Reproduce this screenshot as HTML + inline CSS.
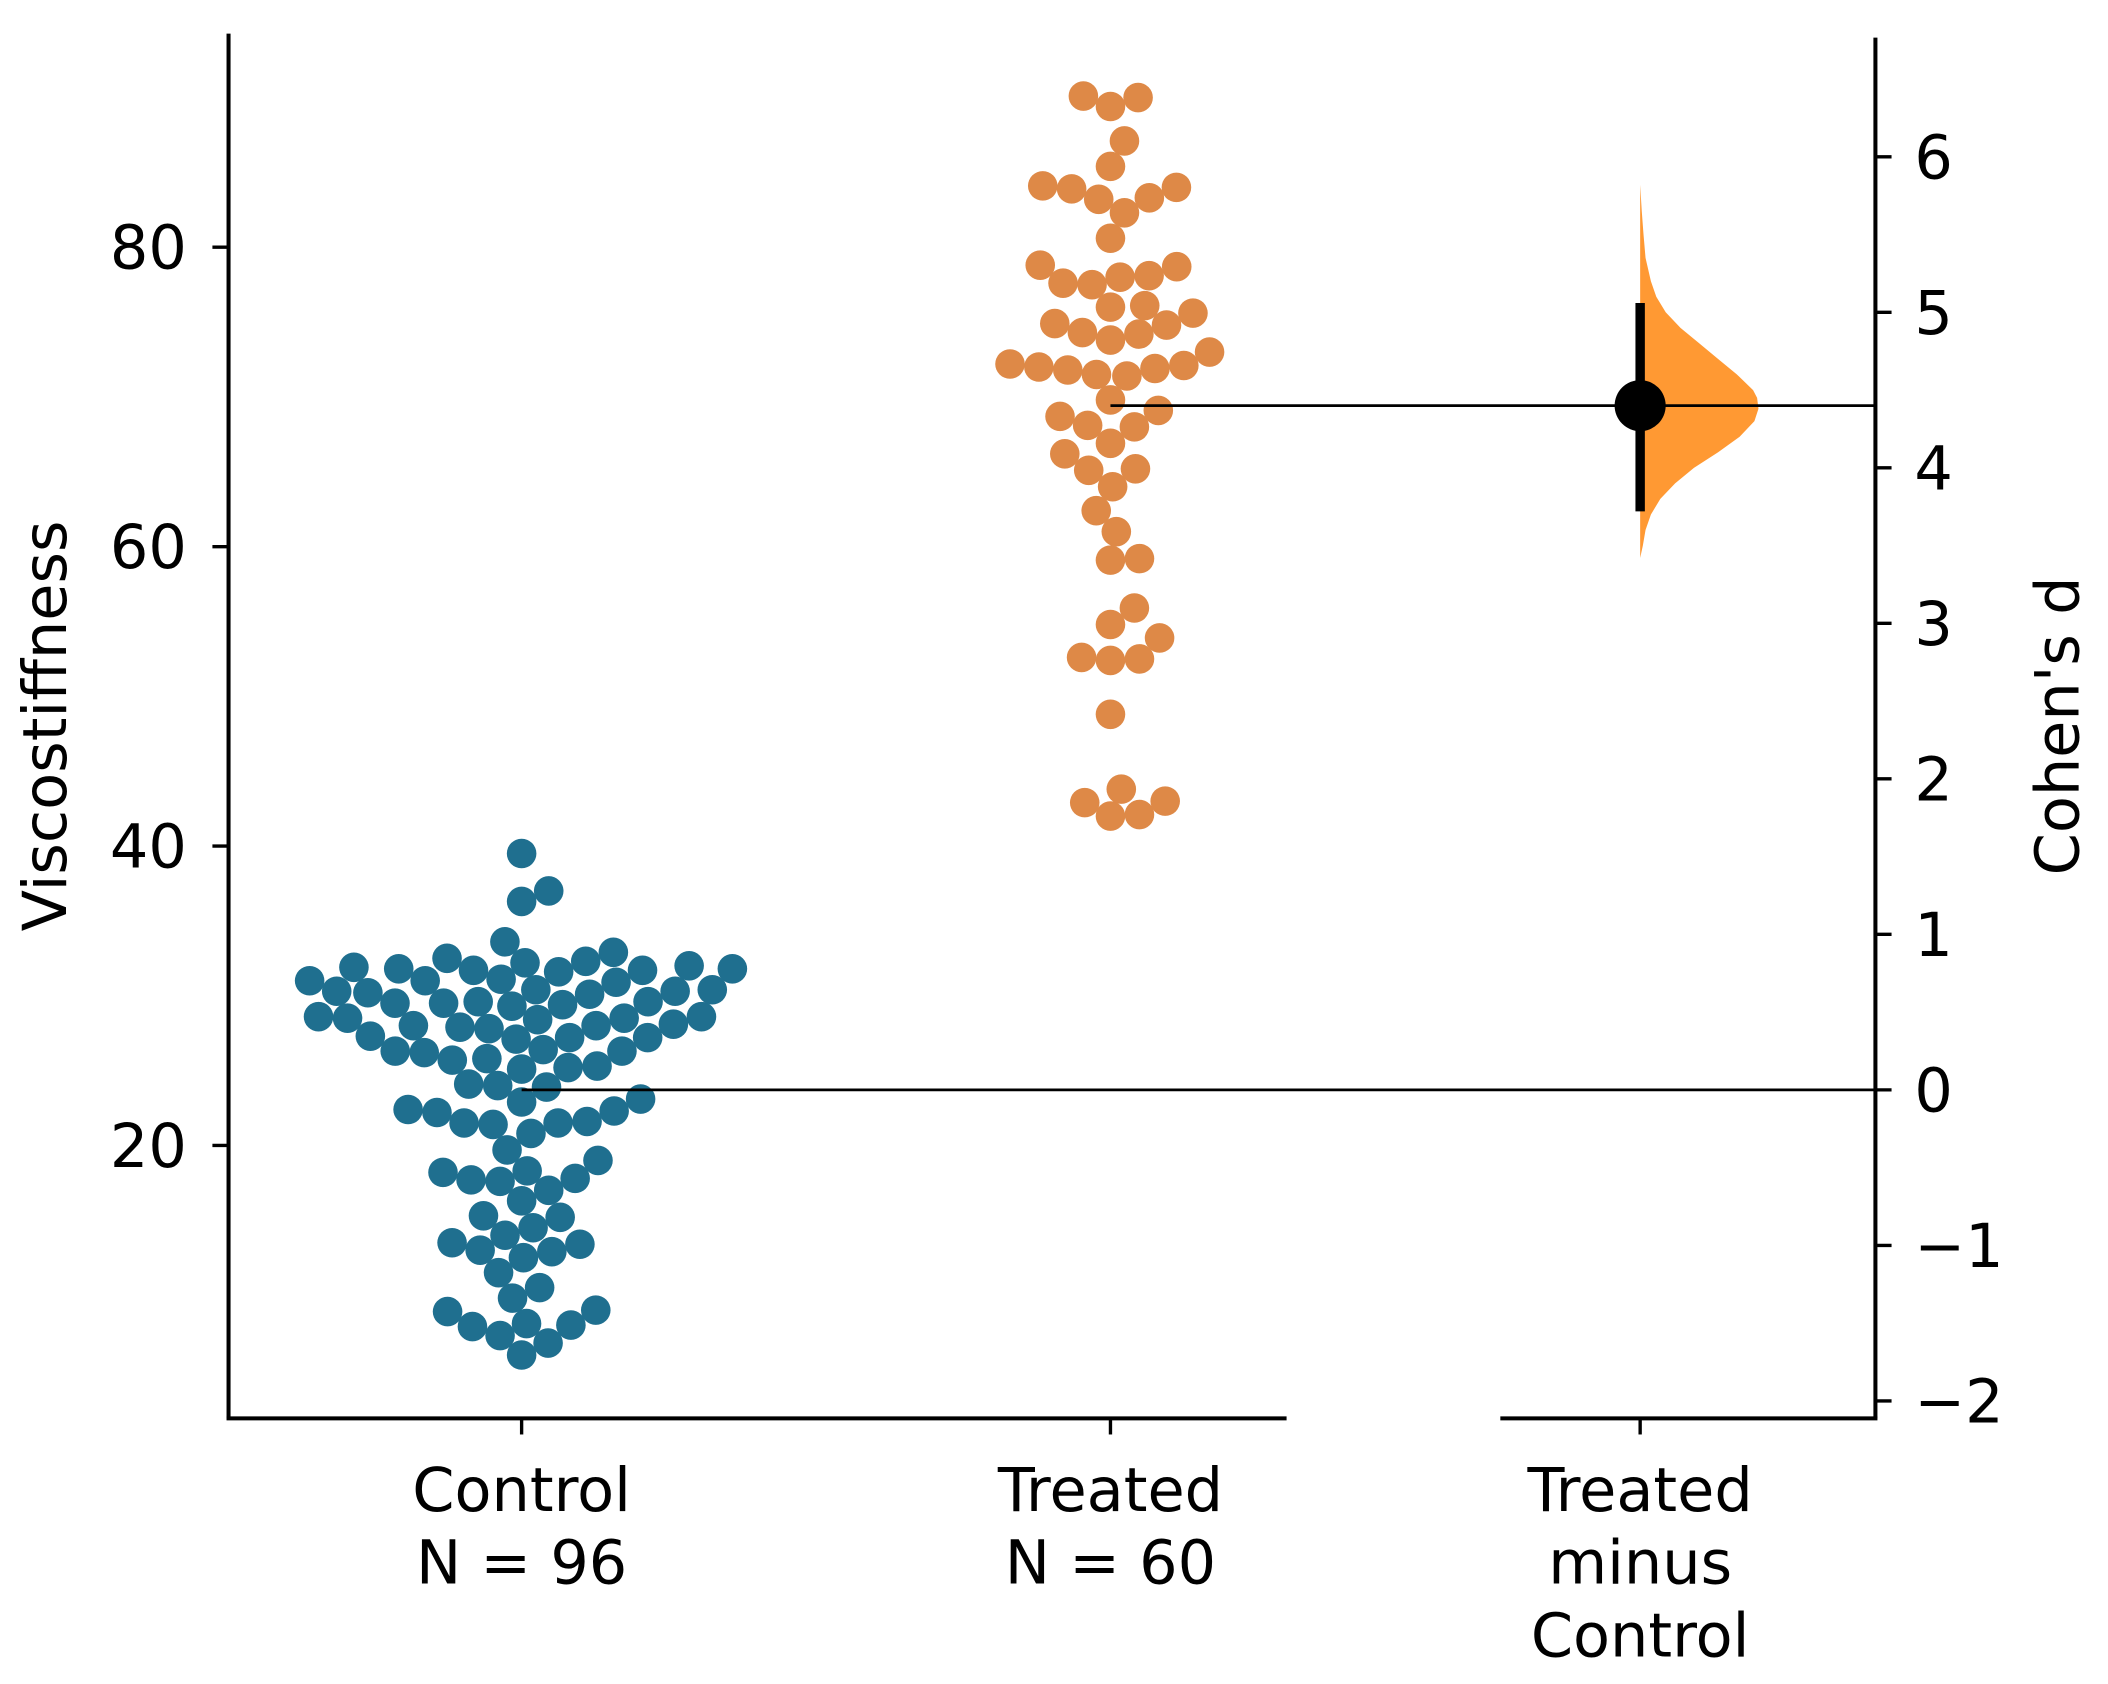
<!DOCTYPE html>
<html><head><meta charset="utf-8"><style>
html,body{margin:0;padding:0;background:#fff;}
svg{display:block;}
text{font-family:"DejaVu Sans","Liberation Sans",sans-serif;fill:#000;}
</style></head><body>
<svg id="chart" width="2108" height="1684" viewBox="0 0 1568 1252.6" preserveAspectRatio="none" xmlns="http://www.w3.org/2000/svg">
<g id="axes"></g>
<g id="marks"></g>
</svg>
<script>
const groups = ["Control", "Treated"];
const groupN = ["N = 96", "N = 60"];
const controlValues = [39.5,37.0,36.3,33.6,32.9,
32.5,32.3,32.2,32.0, 31.9,31.8,31.7,31.6,31.8,31.7,
31.1,31.0,30.9,31.0, 30.4,30.3,30.2,30.3,30.1,30.4,
29.6,29.5,29.4,29.6,29.5,29.3, 28.6,28.5,28.4,28.6,28.5,
28.0,28.1,27.9,28.0,27.8, 27.3,27.2,27.1,27.2, 26.4,26.3,26.2,26.3,
25.8,25.7, 25.2,25.1,25.3, 24.1,24.0,23.9, 23.1,22.9,
22.4,22.3,22.2, 21.6,21.5,21.4,21.5, 20.8,19.7,19.0,
18.3,18.2, 17.7,17.6,17.8, 17.0,16.3, 15.3,15.2, 14.5,14.0,
13.5,13.4, 13.0,12.9, 12.5,11.5,10.5,9.8, 9.0,8.9, 8.0,8.1,7.9, 7.3,6.8,6.0];
const treatedValues = [90.0,90.1,89.4,87.1,85.4,84.0,84.1,83.9,83.3,83.2,82.3,80.6,
78.7,78.8,78.1,78.0,77.6,77.5,76.0,76.1,75.6,74.8,74.9,74.2,74.3,73.8,73.0,
72.0,72.1,71.9,72.2,71.8,71.4,71.5,69.8,69.1,68.7,68.0,68.1,66.9,66.2,65.1,65.2,64.0,
62.4,61.0,59.1,59.2,55.9,54.8,53.9,52.5,52.4,52.6,48.8,43.8,42.9,43.0,42.0,42.1];
const effectSize = 4.40;
const ciLow = 3.72;
const ciHigh = 5.06;
const kdeD = [3.42,3.5,3.6,3.7,3.8,3.9,4.0,4.1,4.2,4.3,4.38,4.45,4.5,4.6,4.7,4.8,4.9,5.0,5.1,5.2,5.35,5.5,5.65,5.82];
const kdeDensity = [0,2,4,8,15,26,40,58,74,85,88,87,84,72,58,44,30,19,12,8,4,2.5,1.2,0];
const leftTicks = [20,40,60,80];
const rightTicks = [-2,-1,0,1,2,3,4,5,6];
const rightTickLabels = ["\u22122","\u22121","0","1","2","3","4","5","6"];

const NS="http://www.w3.org/2000/svg";
const axesG=document.getElementById('axes'), marksG=document.getElementById('marks');
function mk(tag,attrs,parent){const e=document.createElementNS(NS,tag);for(const k in attrs)e.setAttribute(k,attrs[k]);(parent||marksG).appendChild(e);return e;}
const yS=v=>1074.7-11.135*v;
const groupX=[388,826];
const diffX=1220;
const FS=45;
const mean=a=>a.reduce((s,v)=>s+v,0)/a.length;
const cMean=mean(controlValues), tMean=mean(treatedValues);
const dPx=(yS(cMean)-yS(tMean))/effectSize;
const yD=d=>yS(cMean)-d*dPx;

let e;
e=mk('line',{x1:170,y1:25,x2:170,y2:1055,stroke:'#000','stroke-width':3},axesG);

e=mk('line',{x1:168.5,y1:1055,x2:957,y2:1055,stroke:'#000','stroke-width':3},axesG);

e=mk('line',{x1:1116,y1:1055,x2:1396.5,y2:1055,stroke:'#000','stroke-width':3},axesG);

e=mk('line',{x1:1395,y1:28,x2:1395,y2:1055,stroke:'#000','stroke-width':3},axesG);

leftTicks.forEach(v=>{const y=yS(v);
 e=mk('line',{x1:158,y1:y,x2:170,y2:y,stroke:'#000','stroke-width':2.5},axesG);
 
 e=mk('text',{x:139,y:y+16,'text-anchor':'end','font-size':FS},axesG);e.textContent=v;
 });
rightTicks.forEach((d,i)=>{const y=yD(d);
 e=mk('line',{x1:1395,y1:y,x2:1407,y2:y,stroke:'#000','stroke-width':2.5},axesG);
 
 e=mk('text',{x:1424,y:y+16,'font-size':FS},axesG);e.textContent=rightTickLabels[i];
 });
[groupX[0],groupX[1],diffX].forEach(x=>{e=mk('line',{x1:x,y1:1055,x2:x,y2:1067,stroke:'#000','stroke-width':2.5},axesG);
 });
groups.forEach((g,i)=>{
 e=mk('text',{x:groupX[i],y:1124,'text-anchor':'middle','font-size':FS},axesG);e.textContent=g;
 
 e=mk('text',{x:groupX[i],y:1178,'text-anchor':'middle','font-size':FS},axesG);e.textContent=groupN[i];
 });
["Treated","minus","Control"].forEach((t,i)=>{e=mk('text',{x:diffX,y:1124+i*54,'text-anchor':'middle','font-size':FS},axesG);e.textContent=t;
 });
e=mk('text',{x:0,y:0,'text-anchor':'middle','font-size':FS,transform:'translate(49,540) rotate(-90)'},axesG);e.textContent='Viscostiffness';

e=mk('text',{x:0,y:0,'text-anchor':'middle','font-size':FS,transform:'translate(1546,540) rotate(-90)'},axesG);e.textContent="Cohen's d";


function swarm(vals,cx){
 const D=21.6;const pts=vals.map(v=>({v,y:yS(v)})).sort((a,b)=>a.v-b.v);const placed=[];
 pts.forEach(p=>{const near=placed.filter(q=>Math.abs(q.y-p.y)<D);
  const cands=[0];near.forEach(q=>{const dx=Math.sqrt(D*D-(q.y-p.y)**2);cands.push(q.x+dx,q.x-dx);});
  cands.sort((a,b)=>Math.abs(a)-Math.abs(b));
  for(const c of cands){if(near.every(q=>(q.x-c)**2+(q.y-p.y)**2>=D*D-0.01)){p.x=c;break;}}
  placed.push(p);});
 return placed.map(p=>({x:cx+p.x,y:p.y}));}

const cols=['#1f6f8f','#de8947'];
[controlValues,treatedValues].forEach((vals,gi)=>{
 swarm(vals,groupX[gi]).forEach(p=>{e=mk('circle',{cx:p.x,cy:p.y,r:11,fill:cols[gi]});
  
  });});

e=mk('line',{x1:groupX[0],y1:yS(cMean),x2:1395,y2:yS(cMean),stroke:'#000','stroke-width':2});


let dpath='M'+diffX+','+yD(kdeD[0]);
kdeD.forEach((d,i)=>{dpath+=' L'+(diffX+kdeDensity[i])+','+yD(d);});
dpath+=' L'+diffX+','+yD(kdeD[kdeD.length-1])+' Z';
e=mk('path',{d:dpath,fill:'#ff9933'});

e=mk('line',{x1:groupX[1],y1:yS(tMean),x2:1395,y2:yS(tMean),stroke:'#000','stroke-width':2});

e=mk('line',{x1:diffX,y1:yD(ciLow),x2:diffX,y2:yD(ciHigh),stroke:'#000','stroke-width':7});

e=mk('circle',{cx:diffX,cy:yD(effectSize),r:19,fill:'#000'});

</script>
</body></html>
